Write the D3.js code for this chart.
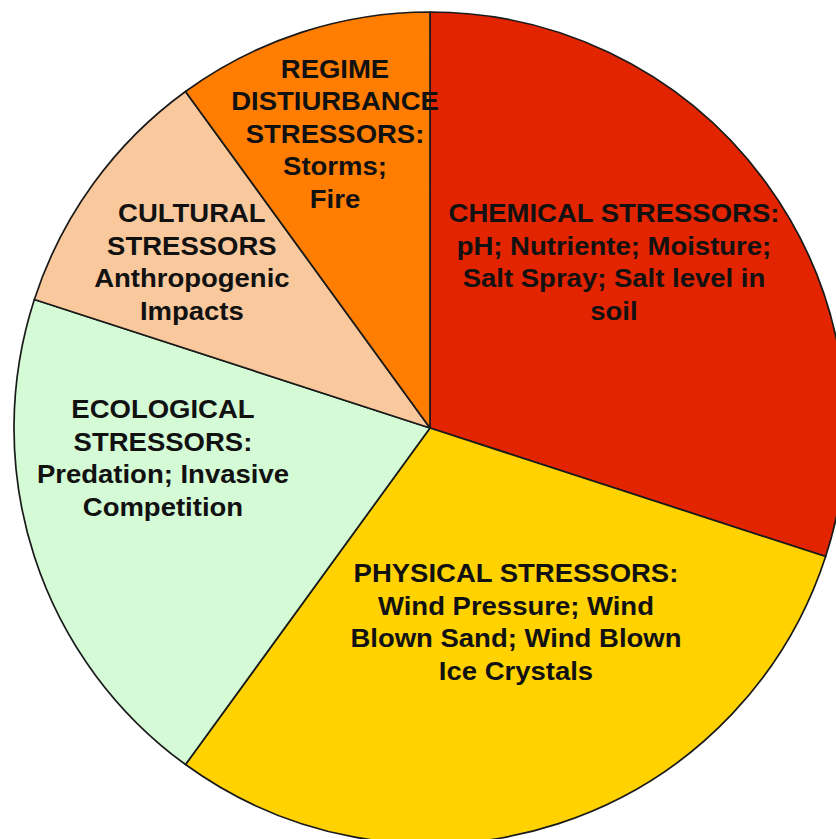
<!DOCTYPE html>
<html>
<head lang="en">
	<meta charset="UTF-8">
	<title>Stressors pie</title>
	<script src="https://cdn.jsdelivr.net/npm/d3@7"></script>
	<style type="text/css">
		body { margin: 0; background: #fff; }
		text { font-family: "Liberation Sans", Arial, sans-serif; font-weight: bold; fill: #111; }
	</style>
</head>
<body>
	<svg id="chart" width="836" height="839"></svg>
	<script type="text/javascript">
		// slices, clockwise from 12 o'clock
		var categories = ['Chemical', 'Physical', 'Ecological', 'Cultural', 'Regime'];
		var values = [30, 30, 20, 10, 10];
		var colors = ['#e22400', '#ffd200', '#d4fbd5', '#f9c89c', '#ff7d00'];
		var labels = [
			['CHEMICAL STRESSORS:', 'pH; Nutriente; Moisture;', 'Salt Spray; Salt level in', 'soil'],
			['PHYSICAL STRESSORS:', 'Wind Pressure; Wind', 'Blown Sand; Wind Blown', 'Ice Crystals'],
			['ECOLOGICAL', 'STRESSORS:', 'Predation; Invasive', 'Competition'],
			['CULTURAL', 'STRESSORS', 'Anthropogenic', 'Impacts'],
			['REGIME', 'DISTIURBANCE', 'STRESSORS:', 'Storms;', 'Fire']
		];

		// label placement: angle (deg, clockwise from top) and fraction of radius
		var labelAngle = [47.9, 156.1, 263.6, 304.9, 342.1];
		var labelRadius = [0.596, 0.51, 0.646, 0.698, 0.743];

		var cx = 430, cy = 428, r = 416;
		var lineH = 32.5, fontSize = 25;

		var svg = d3.select('#chart');
		var g = svg.append('g').attr('transform', 'translate(' + cx + ',' + cy + ')');

		var pie = d3.pie().sort(null).value(function (d) { return d; });
		var arc = d3.arc().innerRadius(0).outerRadius(r);
		var arcs = pie(values);

		g.selectAll('path.slice').data(arcs).enter().append('path')
			.attr('class', 'slice')
			.attr('d', arc)
			.attr('fill', function (d, i) { return colors[i]; })
			.attr('stroke', '#1a1a1a')
			.attr('stroke-width', 1.7)
			.attr('stroke-linejoin', 'round');

		var lab = g.selectAll('g.label').data(labels).enter().append('g')
			.attr('class', 'label')
			.attr('transform', function (d, i) {
				var p = d3.pointRadial(labelAngle[i] * Math.PI / 180, labelRadius[i] * r);
				return 'translate(' + p[0] + ',' + p[1] + ') scale(1.1,1)';
			});

		lab.append('text')
			.attr('text-anchor', 'middle')
			.style('font-size', fontSize + 'px')
			.each(function (lines) {
				var t = d3.select(this);
				var y0 = -(lines.length - 1) * lineH / 2 + fontSize * 0.36;
				lines.forEach(function (s, k) {
					t.append('tspan').attr('x', 0).attr('y', y0 + k * lineH).text(s);
				});
			});
	</script>
</body>
</html>
